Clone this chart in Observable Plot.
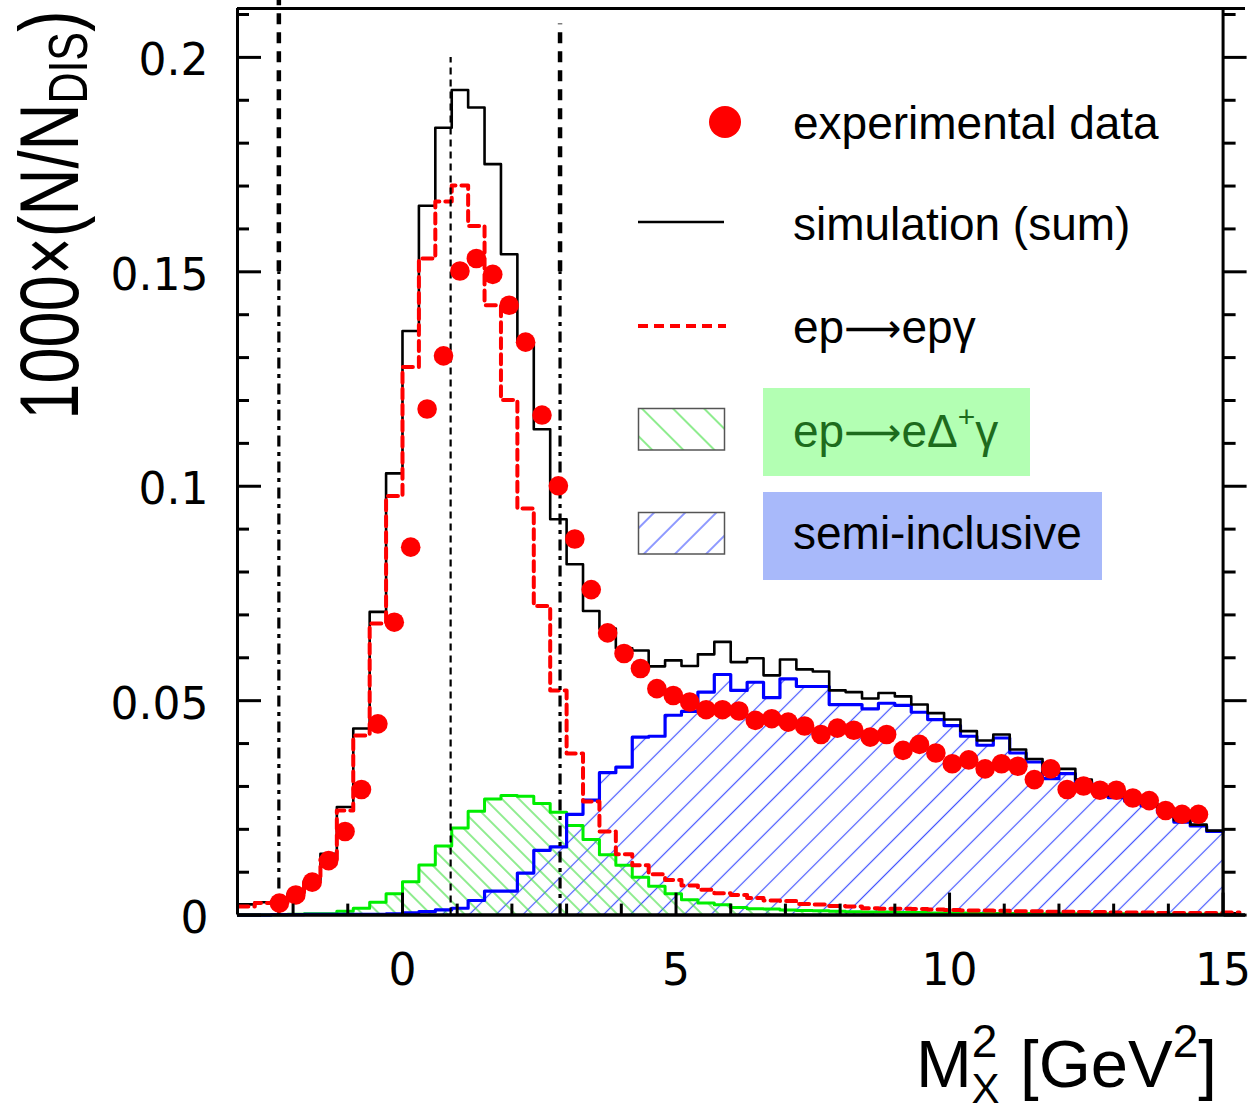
<!DOCTYPE html>
<html><head><meta charset="utf-8">
<script src="https://cdn.jsdelivr.net/npm/d3@7"></script>
<script src="https://cdn.jsdelivr.net/npm/@observablehq/plot@0.6"></script>
<style>body{margin:0;background:#fff} svg{display:block}</style>
</head><body><div id="chart"></div>
<script>
// ---------- data ----------
const binEdges = [-3.0,-2.7,-2.4,-2.1,-1.8,-1.5,-1.2,-0.9,-0.6,-0.3,0,0.3,0.6,0.9,1.2,1.5,1.8,2.1,2.4,2.7,3.0,3.3,3.6,3.9,4.2,4.5,4.8,5.1,5.4,5.7,6.0,6.3,6.6,6.9,7.2,7.5,7.8,8.1,8.4,8.7,9.0,9.3,9.6,9.9,10.2,10.5,10.8,11.1,11.4,11.7,12.0,12.3,12.6,12.9,13.2,13.5,13.8,14.1,14.4,14.7,15.0,15.3];

const simSum = [0.0025,0.0030,0.0032,0.0050,0.0081,0.0143,0.0252,0.0435,0.0707,0.1030,
  0.1362,0.1654,0.1836,0.1924,0.1883,0.1751,0.1541,0.1335,0.1133,0.0923,
  0.0818,0.0709,0.0668,0.0622,0.0617,0.0580,0.0594,0.0581,0.0608,0.0637,
  0.0590,0.0599,0.0559,0.0596,0.0573,0.0568,0.0524,0.0520,0.0505,0.0518,
  0.0510,0.0491,0.0471,0.0456,0.0429,0.0407,0.0421,0.0386,0.0364,0.0332,
  0.0341,0.0316,0.0298,0.0279,0.0271,0.0260,0.0244,0.0221,0.0211,0.0197,0.0004];

const epgamma = [0.0020,0.0028,0.0030,0.0048,0.0078,0.0130,0.0244,0.0419,0.0680,0.0977,
  0.1278,0.1531,0.1664,0.1701,0.1607,0.1422,0.1201,0.0948,0.0721,0.0524,
  0.0377,0.0265,0.0195,0.0142,0.0116,0.0095,0.0082,0.0069,0.0059,0.0051,
  0.0047,0.0040,0.0034,0.0033,0.0026,0.0025,0.0021,0.0020,0.0016,0.0015,
  0.0015,0.0014,0.0013,0.0012,0.0011,0.0011,0.0010,0.0009,0.0009,0.0008,
  0.0008,0.0007,0.0007,0.0006,0.0006,0.0006,0.0005,0.0005,0.0005,0.0005,0.0006];

const deltaGamma = [0,0,0.0001,0.0002,0.0003,0.0003,0.0009,0.0016,0.0030,0.0050,
  0.0078,0.0117,0.0161,0.0203,0.0242,0.0271,0.0279,0.0277,0.0260,0.0240,
  0.0209,0.0176,0.0141,0.0116,0.0088,0.0067,0.0050,0.0036,0.0028,0.0024,
  0.0018,0.0015,0.0014,0.0012,0.0011,0.0010,0.0009,0.0008,0.0007,0.0007,
  0.0006,0.0006,0.0005,0.0005,0.0005,0.0004,0.0004,0.0004,0.0004,0.0003,
  0.0003,0.0003,0.0003,0.0003,0.0002,0.0002,0.0002,0.0002,0.0002,0.0002];

const semiInclusive = [0,0,0.0001,0.0001,0.0002,0.0002,0.0002,0.0002,0.0002,0.0003,
  0.0005,0.0008,0.0012,0.0016,0.0034,0.0056,0.0056,0.0098,0.0151,0.0159,
  0.0235,0.0268,0.0332,0.0345,0.0415,0.0417,0.0466,0.0475,0.0520,0.0561,
  0.0524,0.0543,0.0507,0.0551,0.0533,0.0533,0.0491,0.0491,0.0481,0.0494,
  0.0489,0.0473,0.0456,0.0442,0.0417,0.0396,0.0413,0.0378,0.0357,0.0318,
  0.0330,0.0310,0.0292,0.0274,0.0266,0.0255,0.0240,0.0217,0.0208,0.0195];

const dataX = [-2.25,-1.95,-1.65,-1.35,-1.05,-0.75,-0.45,-0.15,0.15,0.45,0.75,1.05,1.35,1.65,1.95,2.25,2.55,2.85,
  3.15,3.45,3.75,4.05,4.35,4.65,4.95,5.25,5.55,5.85,6.15,6.45,6.75,7.05,7.35,7.65,7.95,8.25,8.55,8.85,
  9.15,9.45,9.75,10.05,10.35,10.65,10.95,11.25,11.55,11.85,12.15,12.45,12.75,13.05,13.35,13.65,13.95,14.25,14.55];
const dataY = [0.0028,0.0047,0.0077,0.0127,0.0195,0.0293,0.0446,0.0683,0.0858,0.1180,0.1304,0.1502,0.1531,0.1494,0.1422,0.1336,0.1166,0.1001,
  0.0877,0.0759,0.0658,0.0610,0.0575,0.0528,0.0512,0.0497,0.0479,0.0479,0.0476,0.0454,0.0458,0.0450,0.0441,0.0421,0.0436,0.0431,0.0415,0.0421,
  0.0384,0.0398,0.0378,0.0353,0.0362,0.0341,0.0353,0.0347,0.0316,0.0341,0.0293,0.0301,0.0291,0.0291,0.0273,0.0267,0.0244,0.0235,0.0235];

// cut lines
const cutX = [-2.26, 2.88];
const cutSplit = [0.15, 0.15];
const cutTop = [0.2134, 0.2078];
const peakX = [0.88];
const peakTop = [0.2];

// axes
const xDomain = [-3.016, 15.41];
const yDomain = [0, 0.2114];
const xMajorTicks = [0, 5, 10, 15];
const xMinorTicks = [-2,-1,1,2,3,4,6,7,8,9,11,12,13,14];
const yMajorTicks = [0, 0.05, 0.1, 0.15, 0.2];
const yMinorTicks = [0.01,0.02,0.03,0.04,0.06,0.07,0.08,0.09,0.11,0.12,0.13,0.14,0.16,0.17,0.18,0.19,0.21];
const yTickLabels = ["0", "0.05", "0.1", "0.15", "0.2"];
const rightAxisX = [15];

// legend: [before arrow, after arrow, superscript, tail]
const legendLabels = [
  ["experimental data"],
  ["simulation (sum)"],
  ["ep", "ep\u03b3"],
  ["ep", "e\u0394", "+", "\u03b3"],
  ["semi-inclusive"]
];

// ---------- helpers ----------
function steps(vals) {
  const pts = [];
  vals.forEach((v, i) => { pts.push({x: binEdges[i], y: v}, {x: binEdges[i + 1], y: v}); });
  return pts;
}
const blackSteps = steps(simSum);
const redSteps = steps(epgamma);
const greenSteps = steps(deltaGamma);
const blueSteps = steps(semiInclusive);
const dots = dataX.map((x, i) => ({x, y: dataY[i]}));
const cuts = cutX.map((x, i) => ({x, split: cutSplit[i], top: cutTop[i]}));
const peaks = peakX.map((x, i) => ({x, top: peakTop[i]}));

const LIB = "'Liberation Sans', Arial, Helvetica, sans-serif";
const DJV = "'DejaVu Sans', sans-serif";

function defs() {
  const d = d3.create("svg:defs");
  function hatch(id, size, angle, color, width) {
    const p = d.append("pattern").attr("id", id).attr("patternUnits", "userSpaceOnUse")
      .attr("width", size).attr("height", size).attr("patternTransform", `rotate(${angle})`);
    p.append("rect").attr("x", size / 2 - width / 2).attr("y", 0).attr("width", width).attr("height", size)
      .attr("fill", color);
  }
  hatch("hatchBlue", 19, 45, "#4455ff", 1.2);
  hatch("hatchGreen", 12, -45, "#33dd33", 1.1);
  hatch("hatchBlueLg", 22, 45, "#4455ff", 1.2);
  hatch("hatchGreenLg", 22, -45, "#33dd33", 1.1);
  return d.node();
}

function decorations() {
  const g = d3.create("svg:g").attr("text-anchor", "start");
  const tx = 793;
  // row 1: data point
  g.append("circle").attr("cx", 725).attr("cy", 122).attr("r", 16).attr("fill", "#ff0000");
  // row 2: black line
  g.append("line").attr("x1", 638).attr("x2", 724).attr("y1", 222).attr("y2", 222)
    .attr("stroke", "black").attr("stroke-width", 2.5);
  // row 3: red dashed
  g.append("line").attr("x1", 638).attr("x2", 726).attr("y1", 326).attr("y2", 326)
    .attr("stroke", "#ff0000").attr("stroke-width", 4).attr("stroke-dasharray", "10,6");
  // row 4: green
  g.append("rect").attr("x", 763).attr("y", 388).attr("width", 267).attr("height", 88).attr("fill", "#b3ffb3");
  g.append("rect").attr("x", 638.5).attr("y", 408.5).attr("width", 86).attr("height", 41.5)
    .attr("fill", "url(#hatchGreenLg)").attr("stroke", "#555").attr("stroke-width", 1.5);
  // row 5: blue
  g.append("rect").attr("x", 763).attr("y", 492).attr("width", 339).attr("height", 88).attr("fill", "#a8b9fa");
  g.append("rect").attr("x", 638.5).attr("y", 512.5).attr("width", 86).attr("height", 41.5)
    .attr("fill", "url(#hatchBlueLg)").attr("stroke", "#555").attr("stroke-width", 1.5);

  const baselines = [139, 240, 343, 447, 549];
  const colors = ["black", "black", "black", "#1d6b1d", "black"];
  legendLabels.forEach((parts, i) => {
    const t = g.append("text").attr("x", tx).attr("y", baselines[i]).attr("fill", colors[i])
      .attr("text-anchor", "start").attr("font-family", LIB).attr("font-size", 46);
    t.append("tspan").text(parts[0]);
    if (parts.length > 1) {
      t.append("tspan").attr("font-family", DJV).attr("font-size", 40).attr("dy", -1).text("\u27f6");
      t.append("tspan").attr("dy", 1).text(parts[1]);
    }
    if (parts.length > 2) {
      t.append("tspan").attr("font-size", 30).attr("dy", -20).text(parts[2]);
      t.append("tspan").attr("dy", 20).text(parts[3]);
    }
  });

  // x title
  const xt = g.append("text").attr("x", 916).attr("y", 1087).attr("text-anchor", "start")
    .attr("font-family", LIB).attr("font-size", 67).attr("fill", "black");
  xt.append("tspan").text("M");
  xt.append("tspan").attr("font-size", 46).attr("dy", -30).text("2");
  xt.append("tspan").attr("font-size", 42).attr("dx", -26).attr("dy", 46).text("X");
  xt.append("tspan").attr("dy", -16).attr("dx", 2).text(" [GeV");
  xt.append("tspan").attr("font-size", 46).attr("dy", -30).text("2");
  xt.append("tspan").attr("dy", 30).text("]");

  // y title
  const yt = g.append("text").attr("transform", "translate(78,215) rotate(-90) scale(1,1.27)")
    .attr("text-anchor", "middle").attr("font-family", LIB).attr("font-size", 65).attr("fill", "black");
  yt.append("tspan").text("1000\u00d7(N/N");
  yt.append("tspan").attr("font-size", 43).attr("dy", 7).text("DIS");
  yt.append("tspan").attr("dy", -7).text(")");
  return g.node();
}

const chart = Plot.plot({
  width: 1252,
  height: 1113,
  marginLeft: 237,
  marginRight: 7,
  marginTop: 8,
  marginBottom: 198.4,
  x: {domain: xDomain},
  y: {domain: yDomain},
  style: {background: "white", fontFamily: DJV, overflow: "visible", color: "black"},
  marks: [
    defs,
    Plot.areaY(blueSteps, {x: "x", y1: 0, y2: "y", fill: "url(#hatchBlue)"}),
    Plot.areaY(greenSteps, {x: "x", y1: 0, y2: "y", fill: "url(#hatchGreen)"}),
    Plot.line(greenSteps, {x: "x", y: "y", stroke: "#00ee00", strokeWidth: 3}),
    Plot.line(blueSteps, {x: "x", y: "y", stroke: "#0000ff", strokeWidth: 3.2}),
    Plot.line(blackSteps, {x: "x", y: "y", stroke: "black", strokeWidth: 2.6}),
    Plot.line(redSteps, {x: "x", y: "y", stroke: "#ff0000", strokeWidth: 4, strokeDasharray: "10,6"}),
    Plot.ruleX(cuts, {x: "x", y1: 0, y2: "split", stroke: "black", strokeWidth: 3.2, strokeDasharray: "11,5.5,4,5.5"}),
    Plot.ruleX(cuts, {x: "x", y1: "split", y2: "top", stroke: "black", strokeWidth: 4.5, strokeDasharray: "11,8"}),
    Plot.ruleX(peaks, {x: "x", y1: 0, y2: "top", stroke: "black", strokeWidth: 2.2, strokeDasharray: "7,5"}),
    Plot.dot(dots, {x: "x", y: "y", r: 9.8, fill: "#ff0000"}),
    // frame
    Plot.ruleY([yDomain[0]], {stroke: "black", strokeWidth: 3.5}),
    Plot.ruleY([yDomain[1]], {stroke: "black", strokeWidth: 3}),
    Plot.ruleX([xDomain[0]], {stroke: "black", strokeWidth: 3}),
    Plot.ruleX(rightAxisX, {x: d => d, y1: yDomain[0], y2: yDomain[1], stroke: "black", strokeWidth: 3}),
    // ticks
    Plot.axisY({ticks: yMajorTicks, tickSize: -24, strokeWidth: 3, fill: "none", label: null}),
    Plot.axisY({ticks: yMinorTicks, tickSize: -12, strokeWidth: 3, fill: "none", label: null}),
    Plot.axisY({anchor: "right", ticks: yMajorTicks, tickSize: 23, dx: -22.4, strokeWidth: 3, fill: "none", label: null}),
    Plot.axisY({anchor: "right", ticks: yMinorTicks, tickSize: 12, dx: -22.4, strokeWidth: 3, fill: "none", label: null}),
    Plot.axisX({ticks: xMajorTicks, tickSize: -22, strokeWidth: 3, fill: "none", label: null}),
    Plot.axisX({ticks: xMinorTicks, tickSize: -11, strokeWidth: 3, fill: "none", label: null}),
    // tick labels
    Plot.axisY({ticks: yMajorTicks, tickSize: 0, tickPadding: 29, dy: 4, fontSize: 44, fontFamily: DJV,
      tickFormat: (d, i) => yTickLabels[i], label: null}),
    Plot.axisX({ticks: xMajorTicks, tickSize: 0, tickPadding: 39, fontSize: 44, fontFamily: DJV,
      tickFormat: d => String(d), label: null}),
    decorations
  ]
});
document.getElementById("chart").appendChild(chart);
</script>
</body></html>
